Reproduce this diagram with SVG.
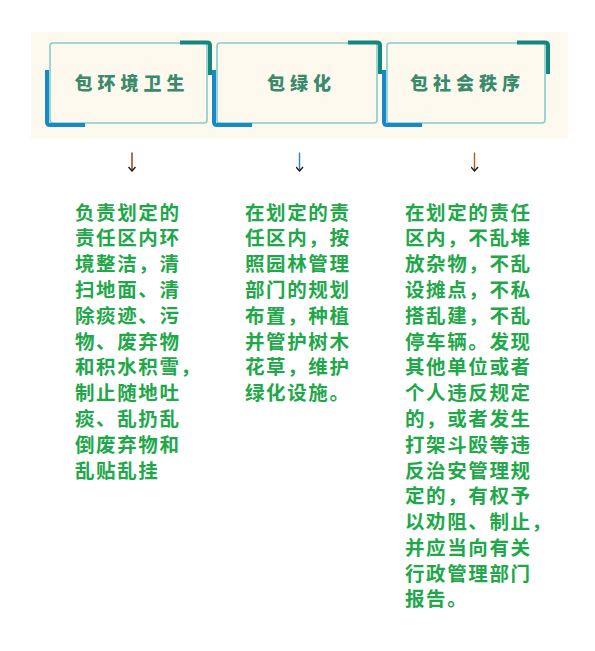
<svg xmlns="http://www.w3.org/2000/svg" width="595" height="651" viewBox="0 0 595 651">
<defs>
<style>
.frame{fill:none;stroke:#86cccb;stroke-width:1.6}
.blue{fill:none;stroke:#1689c9;stroke-width:4;stroke-linecap:butt}
.teal{fill:none;stroke:#13877e;stroke-width:4;stroke-linecap:butt}
.hd{font-family:"Noto Sans CJK SC","Noto Sans",sans-serif;font-weight:900;font-size:18px;letter-spacing:5px;fill:#3b8a6c;text-anchor:middle}
.bd{font-family:"Noto Sans CJK SC","Noto Sans",sans-serif;font-weight:bold;font-size:19.5px;letter-spacing:1.6px;fill:#1ea84a}
.arr{stroke-width:1.4;fill:none;marker-end:url(#ah)}
</style>
<marker id="ah" viewBox="0 0 8 6" refX="4" refY="5" markerWidth="8" markerHeight="6" markerUnits="userSpaceOnUse">
<path d="M0.5,1 L4,5 L7.5,1" fill="none" stroke="#1a1a1a" stroke-width="1.4"/>
</marker>
</defs>
<rect width="595" height="651" fill="#ffffff"/>
<rect x="31" y="32" width="537" height="107" fill="#fdf9ef"/>

<g id="node-env">
<rect class="frame" x="50" y="43" width="157" height="80" rx="3"/>
<path class="blue" d="M47,70 V122 Q47,125 50,125 H85"/>
<path class="teal" d="M180,42.5 H207 Q210,42.5 210,45.5 V75"/>
<text class="hd" x="132" y="90">包环境卫生</text>
</g>

<g id="node-green">
<rect class="frame" x="217" y="43" width="160" height="80" rx="3"/>
<path class="blue" d="M214,70 V122 Q214,125 217,125 H252"/>
<path class="teal" d="M348,42.5 H377 Q380,42.5 380,45.5 V74"/>
<text class="hd" x="301.5" y="90">包绿化</text>
</g>

<g id="node-order">
<rect class="frame" x="387" y="43" width="158" height="80" rx="3"/>
<path class="blue" d="M384,70 V122 Q384,125 387,125 H422"/>
<path class="teal" d="M517,42.5 H545 Q548,42.5 548,45.5 V74"/>
<text class="hd" x="467.5" y="90">包社会秩序</text>
</g>

<g id="connectors">
<path class="arr" stroke="#8a3612" d="M132,152.5 V171"/>
<path class="arr" stroke="#2a80d0" d="M299.5,152.5 V171"/>
<path class="arr" stroke="#b5620c" d="M474.5,152.5 V171"/>
</g>

<g id="text-env">
<text class="bd" y="219.5"><tspan x="75">负责划定的</tspan><tspan x="75" dy="25.8">责任区内环</tspan><tspan x="75" dy="25.8">境整洁，清</tspan><tspan x="75" dy="25.8">扫地面、清</tspan><tspan x="75" dy="25.8">除痰迹、污</tspan><tspan x="75" dy="25.8">物、废弃物</tspan><tspan x="75" dy="25.8">和积水积雪，</tspan><tspan x="75" dy="25.8">制止随地吐</tspan><tspan x="75" dy="25.8">痰、乱扔乱</tspan><tspan x="75" dy="25.8">倒废弃物和</tspan><tspan x="75" dy="25.8">乱贴乱挂</tspan></text>
</g>

<g id="text-green">
<text class="bd" y="219.5"><tspan x="245">在划定的责</tspan><tspan x="245" dy="25.8">任区内，按</tspan><tspan x="245" dy="25.8">照园林管理</tspan><tspan x="245" dy="25.8">部门的规划</tspan><tspan x="245" dy="25.8">布置，种植</tspan><tspan x="245" dy="25.8">并管护树木</tspan><tspan x="245" dy="25.8">花草，维护</tspan><tspan x="245" dy="25.8">绿化设施。</tspan></text>
</g>

<g id="text-order">
<text class="bd" y="219.5"><tspan x="405">在划定的责任</tspan><tspan x="405" dy="25.8">区内，不乱堆</tspan><tspan x="405" dy="25.8">放杂物，不乱</tspan><tspan x="405" dy="25.8">设摊点，不私</tspan><tspan x="405" dy="25.8">搭乱建，不乱</tspan><tspan x="405" dy="25.8">停车辆。发现</tspan><tspan x="405" dy="25.8">其他单位或者</tspan><tspan x="405" dy="25.8">个人违反规定</tspan><tspan x="405" dy="25.8">的，或者发生</tspan><tspan x="405" dy="25.8">打架斗殴等违</tspan><tspan x="405" dy="25.8">反治安管理规</tspan><tspan x="405" dy="25.8">定的，有权予</tspan><tspan x="405" dy="25.8">以劝阻、制止，</tspan><tspan x="405" dy="25.8">并应当向有关</tspan><tspan x="405" dy="25.8">行政管理部门</tspan><tspan x="405" dy="25.8">报告。</tspan></text>
</g>
</svg>
